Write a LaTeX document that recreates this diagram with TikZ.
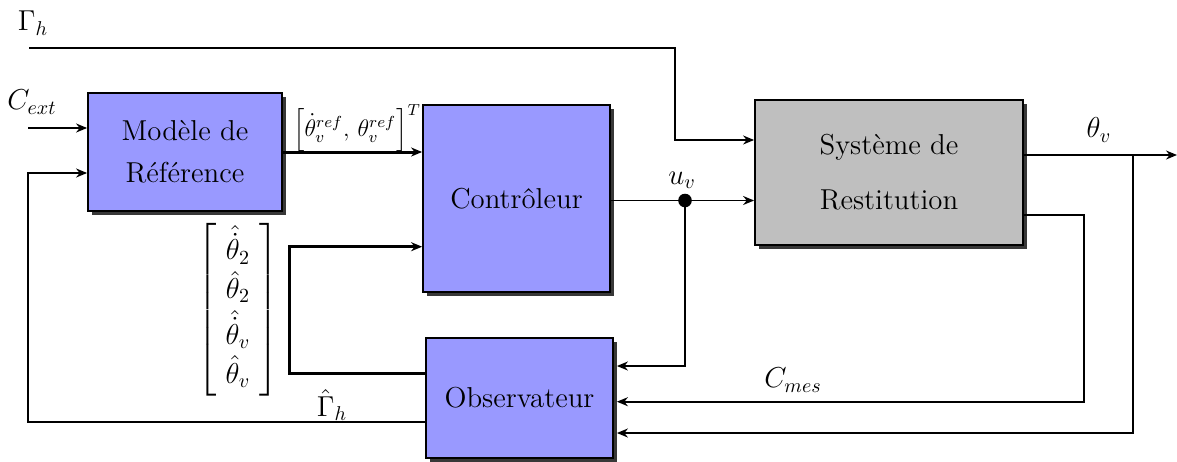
\documentclass[tikz,border=0pt]{standalone}
\usepackage{amsmath}
\usetikzlibrary{arrows.meta,calc,shadows}
\definecolor{boxblue}{HTML}{9999FF}
\definecolor{boxgray}{HTML}{BFBFBF}
\tikzset{
  blockbox/.style={draw=black, line width=0.9pt, fill=boxblue, font=\Large, align=center,
     drop shadow={shadow xshift=2.2pt, shadow yshift=-2.2pt, fill=black!78, opacity=1}},
  arr/.style={-{Stealth[length=5.5pt,width=4.5pt]}, line width=0.8pt},
  ln/.style={line width=0.8pt},
  thickln/.style={line width=1.5pt},
  lbl/.style={inner sep=0pt}
}
\begin{document}
\begin{tikzpicture}[x=0.5pt,y=-0.5pt]
\useasboundingbox (0,0) rectangle (1177,461);
% blocks
\node[blockbox, minimum width=97pt, minimum height=59pt] (mod) at (185,152) {Modèle de\\[3pt]Référence};
\node[blockbox, minimum width=93.5pt, minimum height=93.5pt] (ctrl) at (516.5,198.5) {Contrôleur};
\node[blockbox, fill=boxgray, minimum width=134pt, minimum height=72.5pt] (sys) at (889,172.5) {Système de\\[9.5pt]Restitution};
\node[blockbox, minimum width=93.5pt, minimum height=60pt] (obs) at (519.5,398) {Observateur};
% coordinates
\coordinate (gh) at (29,48);
\coordinate (gbend) at (675,48);
\coordinate (cext) at (28,128);
\coordinate (uv) at (685,200.5);
\coordinate (thout) at (1177,155);
\coordinate (br) at (1133,155);
% connectors
\draw[arr] (gh) -- (gbend) |- ($(sys.west)+(0,-32.5)$);
\draw[arr] (cext) -- (mod.west |- cext);
\draw[arr, thickln] (mod.east) -- (ctrl.west |- mod.east);
\draw[ln] (ctrl.east |- uv) -- (uv);
\draw[arr] (uv) -- (sys.west |- uv);
\fill (uv) circle (3.4pt);
\draw[arr] (uv) |- ($(obs.east)+(3,-32)$);
\draw[arr] ($(sys.east)+(0,-17.5)$) -- (thout);
\draw[arr] (br) |- ($(obs.east)+(3,35)$);
\draw[arr] ($(sys.east)+(0,42.5)$) -- ++(60,0) |- ($(obs.east)+(3,3.7)$);
\draw[arr, thickln] ($(obs.west)+(0,-25)$) -- ++(-136,0) |- ($(ctrl.west)+(0,48.2)$);
\draw[arr] ($(obs.west)+(0,23.7)$) -- ++(-397,0) |- ($(mod.west)+(0,21)$);
% labels
\node[lbl, font=\Large] (lgh) at (33,23) {$\Gamma_h$};
\node[lbl, font=\Large] (lcext) at (32,102) {$C_{ext}$};
\node[lbl, font=\large] (lref) at (357,128) {$\left[\dot{\theta}_v^{ref},\, \theta_v^{ref}\right]^T$};
\node[lbl, font=\Large] (luv) at (682,180) {$u_v$};
\node[lbl, font=\Large] (lthv) at (1099,130) {$\theta_v$};
\node[lbl, font=\Large] (lcmes) at (793,380) {$C_{mes}$};
\node[lbl, font=\Large] (lghat) at (332,405) {$\hat{\Gamma}_h$};
\node[lbl, font=\Large] (lvec) at (238,310) {$\left[\renewcommand{\arraystretch}{1.05}\begin{array}{@{\hspace{4.5pt}}c@{\hspace{4.5pt}}}\hat{\dot{\theta}}_2\\ \hat{\theta}_2\\ \hat{\dot{\theta}}_v\\ \hat{\theta}_v\end{array}\right]$};
\end{tikzpicture}
\end{document}
